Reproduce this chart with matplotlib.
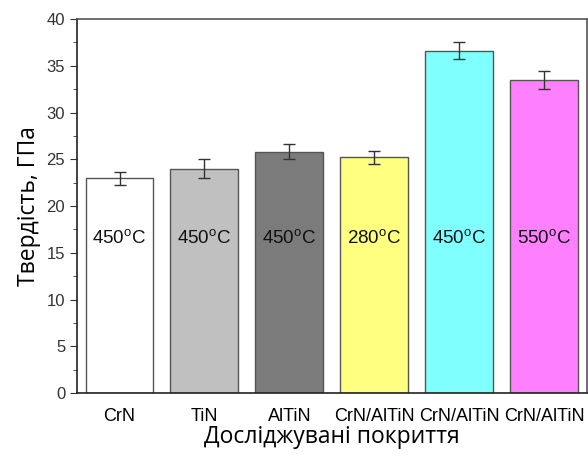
import matplotlib
matplotlib.use("Agg")
import matplotlib.pyplot as plt
from matplotlib.ticker import MultipleLocator

# дані
coatings = ["CrN", "TiN", "AlTiN", "CrN/AlTiN", "CrN/AlTiN", "CrN/AlTiN"]
temperatures = ["450", "450", "450", "280", "450", "550"]
hardness = [23.0, 24.0, 25.8, 25.2, 36.6, 33.5]
errors = [0.7, 1.0, 0.8, 0.7, 0.9, 1.0]
colors = ["#ffffff", "#c0c0c0", "#7b7b7b", "#ffff80", "#80ffff", "#ff80ff"]

plt.rcParams["font.family"] = ["Liberation Sans", "DejaVu Sans"]
plt.rcParams["mathtext.fontset"] = "custom"
plt.rcParams["mathtext.rm"] = "Liberation Sans"

fig = plt.figure(figsize=(5.88, 4.55), dpi=100)
ax = fig.add_axes([0.131, 0.136, 0.867, 0.822])

x = list(range(len(coatings)))
ax.bar(x, hardness, width=0.8, color=colors, edgecolor="#555555", linewidth=1.0,
       yerr=errors, capsize=4, error_kw=dict(ecolor="#333333", elinewidth=1.0, capthick=1.0))

for xi, t in zip(x, temperatures):
    ax.text(xi, 16.5, t + r"$^{\rm o}$C", ha="center", va="center", fontsize=13.5, color="#111111")

ax.set_xlim(-0.5, 5.5)
ax.set_ylim(0, 40)
ax.yaxis.set_major_locator(MultipleLocator(5))
ax.yaxis.set_minor_locator(MultipleLocator(2.5))
ax.set_xticks(x)
ax.set_xticklabels(coatings, fontsize=13)
ax.tick_params(axis="x", length=0, pad=11)
ax.tick_params(axis="y", which="major", length=5, labelsize=12, colors="#333333")
ax.tick_params(axis="y", which="minor", length=3, colors="#333333")
for s in ax.spines.values():
    s.set_color("#555555")
    s.set_linewidth(1.2)
ax.spines["left"].set_color("#222222")
ax.spines["bottom"].set_color("#222222")

ax.set_ylabel("Твердість, ГПа", fontsize=16.5, family=["Open Sans", "DejaVu Sans"], labelpad=4)
ax.set_xlabel("Досліджувані покриття", fontsize=16.5, family=["Open Sans", "DejaVu Sans"], labelpad=0)

fig.savefig("out.png", dpi=100)
